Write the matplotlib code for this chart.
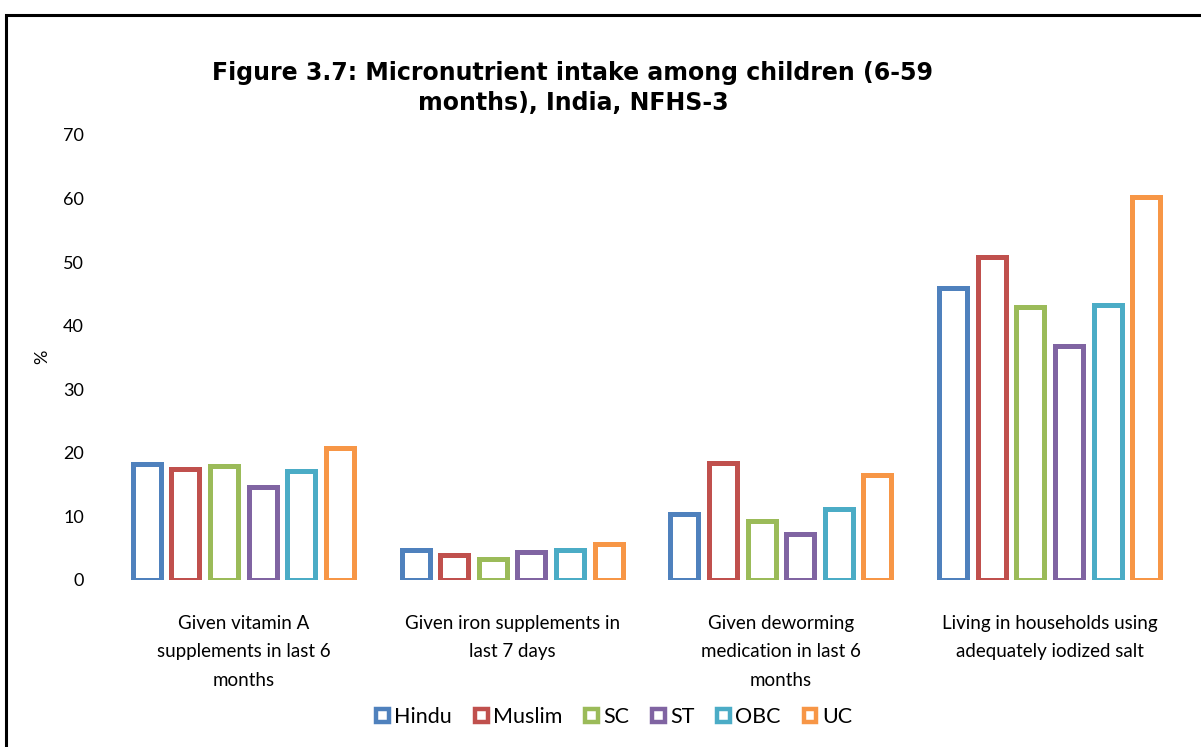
import matplotlib.pyplot as plt
import matplotlib.patches as mpatches
import numpy as np

plt.rcParams['font.family'] = ['Lato', 'DejaVu Sans']

categories = [
    "Given vitamin A\nsupplements in last 6\nmonths",
    "Given iron supplements in\nlast 7 days",
    "Given deworming\nmedication in last 6\nmonths",
    "Living in households using\nadequately iodized salt",
]
groups = ["Hindu", "Muslim", "SC", "ST", "OBC", "UC"]
colors = ["#4F81BD", "#C0504D", "#9BBB59", "#8064A2", "#4BACC6", "#F79646"]

hindu = [18.2, 4.7, 10.3, 46.0]
muslim = [17.4, 3.9, 18.4, 50.8]
sc = [18.0, 3.3, 9.3, 43.0]
st = [14.7, 4.4, 7.3, 36.8]
obc = [17.1, 4.7, 11.1, 43.3]
uc = [20.8, 5.6, 16.5, 60.2]
series = [hindu, muslim, sc, st, obc, uc]

yticks = [0, 10, 20, 30, 40, 50, 60, 70]

fig = plt.figure(figsize=(12.01, 7.47), dpi=100)
ax = fig.add_axes([0.0908, 0.2236, 0.895, 0.5957])

x = np.arange(len(categories))
pitch = 0.1438
width = 0.104
for i, (name, vals) in enumerate(zip(groups, series)):
    offs = (i - 2.5) * pitch
    ax.bar(x + offs, vals, width, facecolor="white", edgecolor=colors[i],
           linewidth=3.6, label=name)

ax.set_xlim(-0.5, len(categories) - 0.5)
ax.set_ylim(0, 70)
ax.set_yticks(yticks)
ax.set_yticklabels([str(t) for t in yticks], fontsize=13)
ax.set_xticks(x)
ax.set_xticklabels(categories, fontsize=13.5, linespacing=1.82)
ax.tick_params(axis='both', length=0)
ax.tick_params(axis='y', pad=18)
ax.tick_params(axis='x', pad=25)
for s in ax.spines.values():
    s.set_visible(False)

fig.text(42 / 1201, 1 - 357 / 747, "%", rotation=90, fontsize=13,
         ha='center', va='center')

fig.text(573 / 1201, 1 - 88 / 747,
         "Figure 3.7: Micronutrient intake among children (6-59\nmonths), India, NFHS-3",
         fontsize=17, fontweight='bold', family='DejaVu Sans',
         ha='center', va='center', linespacing=1.3)

handles = [mpatches.Patch(facecolor="white", edgecolor=c, linewidth=3.2, label=g)
           for g, c in zip(groups, colors)]
fig.legend(handles=handles, loc='center', bbox_to_anchor=(614 / 1201, 1 - 717 / 747),
           ncol=6, frameon=False, fontsize=15.5, handlelength=0.6, handleheight=0.6,
           handletextpad=0.25, columnspacing=1.05)

# chart border (top and left visible, rest runs off the picture)
fig.patches.append(mpatches.Rectangle((6 / 1201, -0.1), 1.2, 1.1 - 15 / 747,
                                      transform=fig.transFigure, fill=False,
                                      edgecolor="black", linewidth=2.2))

fig.savefig("out.png", dpi=100)
